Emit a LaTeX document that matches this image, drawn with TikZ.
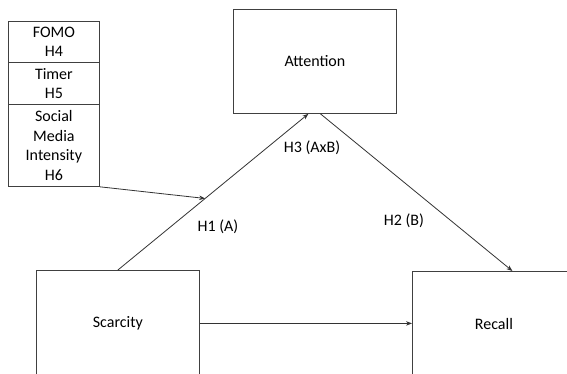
\documentclass[tikz,border=0pt]{standalone}
\usepackage{fontspec}
\setmainfont{Carlito}
\usetikzlibrary{calc,arrows.meta}
\begin{document}
\begin{tikzpicture}[x=1pt,y=-1pt,
  box/.style={draw=black!75,line width=0.8pt,anchor=north west,inner sep=0pt,
    font=\fontsize{16}{19.5}\selectfont,align=center},
  conn/.style={draw=black!80,line width=0.8pt,-{Stealth[length=6pt,width=4.5pt]}},
  lbl/.style={font=\fontsize{16}{19.5}\selectfont,inner sep=0pt}]
\useasboundingbox (0,0) rectangle (567,374);
\clip (0,0) rectangle (567,374);

% moderators stack
\node[box,minimum width=91pt,minimum height=41pt] (fomo) at (8,21) {FOMO\\H4};
\node[box,minimum width=91pt,minimum height=42pt] (timer) at (8,62) {Timer\\H5};
\node[box,minimum width=91pt,minimum height=82pt] (social) at (8,104) {Social\\Media\\Intensity\\H6};

% main constructs
\node[box,minimum width=163pt,minimum height=104pt] (att) at (233,9) {Attention};
\node[box,minimum width=163pt,minimum height=106pt] (scar) at (36,270) {Scarcity};
\node[box,minimum width=163pt,minimum height=106pt] (rec) at (412,271) {Recall};

% paths
\coordinate (attin) at ([xshift=-6.5pt]att.south);
\coordinate (attout) at ([xshift=5.5pt]att.south);
\coordinate (recin) at ([xshift=18.5pt]rec.north);
\draw[conn] (scar.north) -- (attin);
\draw[conn] (attout) -- (recin);
\draw[conn] (scar.east) -- (scar.east -| rec.west);
\coordinate (mod) at ($(scar.north)!0.458!(attin)$);
\draw[conn] (social.south east) -- (mod);

% hypothesis labels
\node[lbl] (h3) at (312,148) {H3 (AxB)};
\node[lbl] (h1) at (218,227) {H1 (A)};
\node[lbl] (h2) at (404,221) {H2 (B)};
\end{tikzpicture}
\end{document}
